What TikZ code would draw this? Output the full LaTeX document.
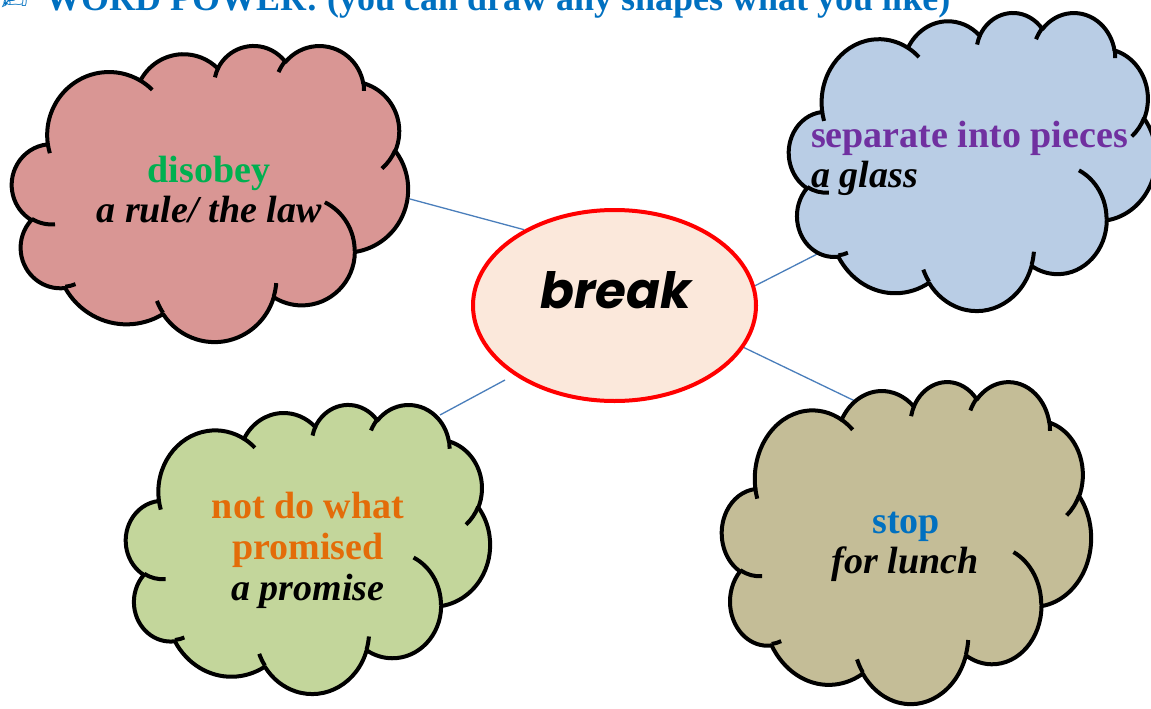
\documentclass[tikz,border=0pt]{standalone}
\usepackage{fontspec}
\setmainfont{Liberation Serif}
\newfontfamily\brkfont{Poppins}
\newfontfamily\symfont{DejaVu Sans}
\usetikzlibrary{shapes.geometric}
\definecolor{cloudred}{HTML}{D99694}
\definecolor{cloudblue}{HTML}{B9CDE5}
\definecolor{cloudgreen}{HTML}{C3D69B}
\definecolor{cloudtan}{HTML}{C4BD97}
\definecolor{ellfill}{HTML}{FBE8DB}
\definecolor{linkblue}{HTML}{4A7EBB}
\definecolor{titleblue}{HTML}{0070C0}
\definecolor{txtgreen}{HTML}{00B050}
\definecolor{txtpurple}{HTML}{7030A0}
\definecolor{txtorange}{HTML}{E36C09}
\definecolor{txtblue}{HTML}{0070C0}
\pgfdeclarelayer{bg}\pgfsetlayers{bg,main}
% visual angle -> parametric angle for elliptical arcs
\newcommand\ooang[5]{%
 \pgfmathsetmacro\ootmpS{atan2((#2)*sin(#4),(#3)*cos(#4))}%
 \pgfmathsetmacro\ootmpE{atan2((#2)*sin(#4+#5),(#3)*cos(#4+#5))}%
 \pgfmathsetmacro\ootmpD{(\ootmpE)-(\ootmpS)}%
 \pgfmathsetmacro\ootmpD{(\ootmpD)+360*round((#5-(\ootmpD))/360)}%
 \expandafter\xdef\csname oo#1s\endcsname{\ootmpS}%
 \expandafter\xdef\csname oo#1d\endcsname{\ootmpD}%
}
\ooang{A}{15.632}{21.273}{-190.4875}{123.7805}
\ooang{B}{12.345}{16.822}{-144.1024}{89.9452}
\ooang{C}{10.104}{13.762}{-145.8079}{99.7230}
\ooang{D}{11.243}{15.266}{-130.9861}{117.2417}
\ooang{E}{12.345}{16.836}{-78.7089}{109.0269}
\ooang{F}{15.683}{21.343}{-46.2673}{130.2690}
\ooang{G}{13.391}{18.211}{0.6250}{114.0333}
\ooang{H}{15.630}{21.331}{22.4516}{115.1726}
\ooang{I}{17.870}{24.405}{66.2426}{75.7110}
\ooang{J}{10.093}{13.699}{-274.9421}{146.7356}
\ooang{K}{10.058}{13.762}{-246.8285}{152.5189}
\ooang{a}{10.058}{13.762}{86.742}{26.4295}
\ooang{b}{10.093}{13.699}{73.6105}{11.4475}
\ooang{c}{15.630}{21.331}{137.6241}{14.0811}
\ooang{d}{15.630}{21.331}{6.4533}{15.9984}
\ooang{e}{13.391}{18.211}{-70.2924}{70.9174}
\ooang{f}{12.345}{16.836}{30.3180}{27.7515}
\ooang{g}{11.243}{15.266}{-13.7443}{14.8589}
\ooang{h}{11.243}{15.266}{-149.1815}{18.1954}
\ooang{i}{10.104}{13.762}{-163.4943}{17.6864}
\ooang{j}{15.632}{21.273}{-66.7070}{12.3194}
\ooang{k}{15.632}{21.273}{157.6544}{11.8582}
\tikzset{
 cloudline/.style={draw=black,line width=4pt,line join=round},
 link/.style={draw=linkblue,line width=1.3pt},
 lbl/.style={anchor=base,inner sep=0pt,font=\fontsize{38}{40}\selectfont\bfseries},
 lbli/.style={lbl,font=\fontsize{38}{40}\selectfont\bfseries\itshape},
}
\newcommand\officecloud[5]{%
\begin{scope}[shift={(#1,#2)},xscale=#3/100,yscale=#4/100]
\filldraw[cloudline,fill=#5] (9.028,33.264)
 arc[start angle=\ooAs,delta angle=\ooAd,x radius=15.632,y radius=21.273]
 arc[start angle=\ooBs,delta angle=\ooBd,x radius=12.345,y radius=16.822]
 arc[start angle=\ooCs,delta angle=\ooCd,x radius=10.104,y radius=13.762]
 arc[start angle=\ooDs,delta angle=\ooDd,x radius=11.243,y radius=15.266]
 arc[start angle=\ooEs,delta angle=\ooEd,x radius=12.345,y radius=16.836]
 arc[start angle=\ooFs,delta angle=\ooFd,x radius=15.683,y radius=21.343]
 arc[start angle=\ooGs,delta angle=\ooGd,x radius=13.391,y radius=18.211]
 arc[start angle=\ooHs,delta angle=\ooHd,x radius=15.630,y radius=21.331]
 arc[start angle=\ooIs,delta angle=\ooId,x radius=17.870,y radius=24.405]
 arc[start angle=\ooJs,delta angle=\ooJd,x radius=10.093,y radius=13.699]
 arc[start angle=\ooKs,delta angle=\ooKd,x radius=10.058,y radius=13.762]
 -- cycle;
\draw[cloudline]
 (10.863,60.595) arc[start angle=\ooas,delta angle=\ooad,x radius=10.058,y radius=13.762]
 (16.037,80.785) arc[start angle=\oobs,delta angle=\oobd,x radius=10.093,y radius=13.699]
 (38.144,90.486) arc[start angle=\oocs,delta angle=\oocd,x radius=15.630,y radius=21.331]
 (66.729,80.442) arc[start angle=\oods,delta angle=\oodd,x radius=15.630,y radius=21.331]
 (79.002,53.134) arc[start angle=\ooes,delta angle=\ooed,x radius=13.391,y radius=18.211]
 (96.755,35.542) arc[start angle=\oofs,delta angle=\oofd,x radius=12.345,y radius=16.836]
 (88.713,12.560) arc[start angle=\oogs,delta angle=\oogd,x radius=11.243,y radius=15.266]
 (67.310,9.148)  arc[start angle=\oohs,delta angle=\oohd,x radius=11.243,y radius=15.266]
 (51.252,10.926) arc[start angle=\oois,delta angle=\ooid,x radius=10.104,y radius=13.762]
 (32.407,12.019) arc[start angle=\oojs,delta angle=\oojd,x radius=15.632,y radius=21.273]
 (9.553,36.549)  arc[start angle=\ooks,delta angle=\ookd,x radius=15.632,y radius=21.273];
\end{scope}}
\begin{document}
\begin{tikzpicture}[x=1pt,y=-1pt]
\useasboundingbox (0,0) rectangle (1151,709);
\begin{pgfonlayer}{bg}
\fill[white] (0,0) rectangle (1151,709);
\end{pgfonlayer}
% title
\node[anchor=base west,inner sep=0pt,text=titleblue,font=\symfont\fontsize{32}{34}\selectfont] (icon) at (1,11) {✍};
\node[anchor=base west,inner sep=0pt,text=titleblue,font=\fontsize{36}{38}\selectfont\bfseries] (title) at (45,11) {WORD POWER: (you can draw any shapes what you like)};
% clouds
\officecloud{12}{45}{396}{296}{cloudred}
\officecloud{789}{12}{367}{298}{cloudblue}
\officecloud{126}{404}{364}{289}{cloudgreen}
\officecloud{722}{381}{369}{322}{cloudtan}
\coordinate (redc) at (210,193);
\coordinate (bluec) at (972,161);
\coordinate (greenc) at (308,549);
\coordinate (tanc) at (906,542);
% centre
\node[ellipse,draw=red,line width=4pt,fill=ellfill,minimum width=283pt,minimum height=191pt,inner sep=0pt] (brk) at (614.5,305.5) {};
\node[anchor=base,inner sep=0pt,font=\brkfont\fontsize{50}{52}\selectfont\bfseries\itshape] (brkt) at (616,308) {break};
% connector ends
\coordinate (redend) at (410,199);
\coordinate (blueend) at (829,248);
\coordinate (tanend) at (857,402);
\coordinate (greenend) at (440,415);
\coordinate (greenstart) at (505,380);
\begin{pgfonlayer}{bg}
\draw[link] (brk.140) -- (redend);
\draw[link] (brk.8) -- (blueend);
\draw[link] (brk.-18) -- (tanend);
\draw[link] (greenstart) -- (greenend);
\end{pgfonlayer}
% texts
\node[lbl,text=txtgreen] (r1) at (209,182) {disobey};
\node[lbli] (r2) at (209,222) {a rule/ the law};
\node[lbl,anchor=base west,text=txtpurple] (b1) at (811,147) {separate into pieces};
\node[lbli,anchor=base west] (b2) at (811,187) {a glass};
\node[lbl,text=txtorange] (g1) at (308,518) {not do what};
\node[lbl,text=txtorange] (g2) at (308,559) {promised};
\node[lbli] (g3) at (308,600) {a promise};
\node[lbl,text=txtblue] (t1) at (906,533) {stop};
\node[lbli] (t2) at (905,573) {for lunch};
\end{tikzpicture}
\end{document}
